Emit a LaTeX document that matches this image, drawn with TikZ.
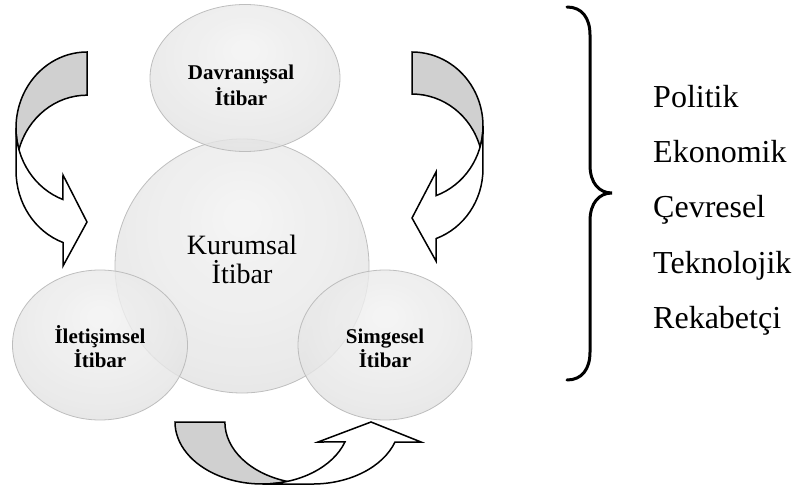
\documentclass[tikz,border=0pt]{standalone}
\usepackage{fontspec}
\setmainfont{Liberation Serif}
\usetikzlibrary{shapes.geometric}
\definecolor{bandgray}{RGB}{208,208,208}
% glossy bubble fill: light near the upper middle, darker towards the rim
\pgfdeclareradialshading{bubbleshade}{\pgfpoint{0bp}{10bp}}{%
  color(0bp)=(black!5); color(22bp)=(black!9); color(42bp)=(black!14);
  color(52bp)=(black!21); color(60bp)=(black!29); color(70bp)=(black!32)}
\tikzset{
  bubble/.style={ellipse, inner sep=0pt, draw=black!28, line width=0.8pt,
    shading=bubbleshade, shade, fill opacity=0.82, draw opacity=0.9},
  smalllabel/.style={font=\bfseries\fontsize{21}{25}\selectfont, anchor=base, inner sep=0pt},
  biglabel/.style={font=\fontsize{28}{32}\selectfont, anchor=base, inner sep=0pt},
  listitem/.style={font=\fontsize{32}{36}\selectfont, anchor=base west, inner sep=0pt},
  band/.style={draw=black, line width=1.5pt, line join=miter},
  bracestroke/.style={draw=black, line width=3pt, line cap=round},
}
\begin{document}
\begin{tikzpicture}[x=1pt, y=-1pt]
  \useasboundingbox (0,0) rectangle (799,486);

  % reputation bubbles
  \node[bubble, minimum width=254pt, minimum height=254pt] (kurumsal) at (242,266) {};
  \node[bubble, minimum width=190pt, minimum height=147pt] (davranis) at (245,78) {};
  \node[bubble, minimum width=175pt, minimum height=150pt] (iletisim) at (100,345) {};
  \node[bubble, minimum width=174pt, minimum height=150pt] (simge) at (385,345) {};

  % bubble labels
  \node[biglabel] (kurumsal-a) at (242,254) {Kurumsal};
  \node[biglabel] (kurumsal-b) at (242,283) {İtibar};
  \node[smalllabel] (davranis-a) at (241,80) {Davranışsal};
  \node[smalllabel] (davranis-b) at (241,106) {İtibar};
  \node[smalllabel] (iletisim-a) at (100,343) {İletişimsel};
  \node[smalllabel] (iletisim-b) at (100,367) {İtibar};
  \node[smalllabel] (simge-a) at (385,343) {Simgesel};
  \node[smalllabel] (simge-b) at (385,367) {İtibar};

  % curved arrow on the left, pointing right
  \filldraw[band, fill=bandgray] (87,52)
    arc[start angle=270, end angle=163.5, x radius=71, y radius=76]
    arc[start angle=196.5, end angle=270, x radius=71, y radius=76] -- cycle;
  \filldraw[band, fill=white] (16,128)
    arc[start angle=180, end angle=109.8, x radius=71, y radius=76]
    -- (63,175) -- (87,222) -- (63,266) -- (63,242.5)
    arc[start angle=109.8, end angle=180, x radius=71, y radius=76] -- cycle;

  % the same arrow mirrored on the right, pointing left
  \begin{scope}[shift={(499,-4)}, xscale=-1]
    \filldraw[band, fill=bandgray] (87,56)
      arc[start angle=270, end angle=163.5, x radius=71, y radius=74]
      arc[start angle=196.5, end angle=270, x radius=71, y radius=74] -- cycle;
    \filldraw[band, fill=white] (16,130)
      arc[start angle=180, end angle=109.8, x radius=71, y radius=74]
      -- (63,176) -- (87,222) -- (63,265) -- (63,242.6)
      arc[start angle=109.8, end angle=180, x radius=71, y radius=74] -- cycle;
  \end{scope}

  % curved arrow at the bottom, pointing up
  \filldraw[band, fill=bandgray] (175,422)
    arc[start angle=180, end angle=73.4, x radius=87.3, y radius=62]
    arc[start angle=106.6, end angle=180, x radius=87.3, y radius=62] -- cycle;
  \filldraw[band, fill=white] (262.3,484)
    arc[start angle=90, end angle=18.8, x radius=87.3, y radius=62]
    -- (318,442) -- (371,422) -- (421,442) -- (395,442)
    arc[start angle=18.8, end angle=90, x radius=87.3, y radius=62] -- cycle;

  % brace and the list of environment factors
  \draw[bracestroke] (567,7) .. controls (582,7) and (590,18) .. (590,35)
    -- (590,165) .. controls (590,183) and (599,193) .. (612,193)
    .. controls (599,193) and (590,203) .. (590,221)
    -- (590,352) .. controls (590,369) and (582,380) .. (567,380);
  \node[listitem] (politik) at (653,108) {Politik};
  \node[listitem] (ekonomik) at (653,163) {Ekonomik};
  \node[listitem] (cevresel) at (653,218) {Çevresel};
  \node[listitem] (teknolojik) at (653,273) {Teknolojik};
  \node[listitem] (rekabetci) at (653,328) {Rekabetçi};
\end{tikzpicture}
\end{document}
